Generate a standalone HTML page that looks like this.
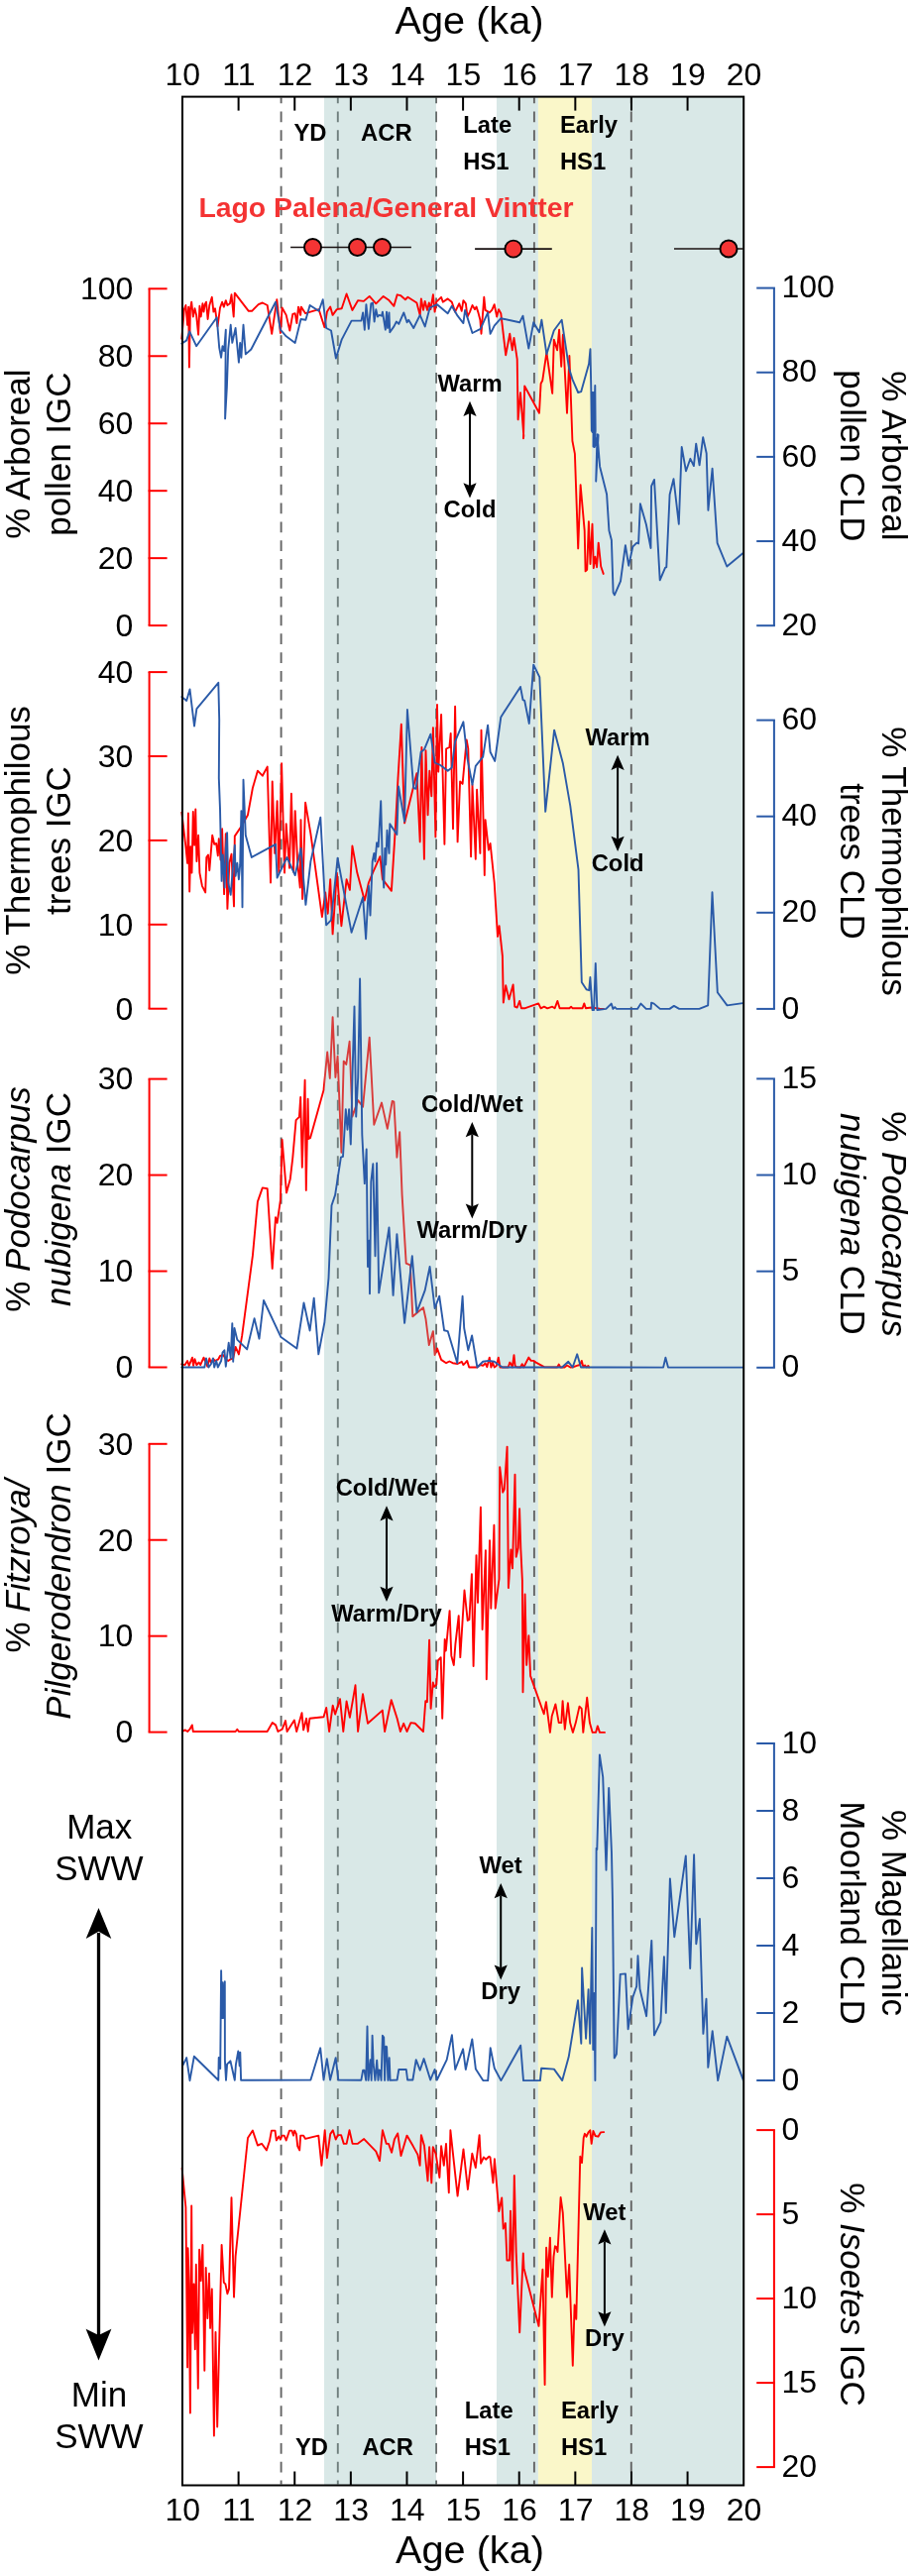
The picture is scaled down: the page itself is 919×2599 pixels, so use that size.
<!DOCTYPE html><html><head><meta charset="utf-8"><style>html,body{margin:0;padding:0;background:#fff;}svg{display:block;will-change:transform;}text{font-family:"Liberation Sans", sans-serif;}</style></head><body>
<svg width="919" height="2599" viewBox="0 0 919 2599">
<rect width="919" height="2599" fill="#fff"/>
<rect x="501.0" y="97.6" width="41.90" height="2409.90" fill="#d9e8e7"/>
<rect x="542.9" y="97.6" width="54.10" height="2409.90" fill="#faf7c9"/>
<rect x="597.0" y="97.6" width="153.20" height="2409.90" fill="#d9e8e7"/>
<line x1="283.6" y1="98.6" x2="283.6" y2="2506.5" stroke="#646464" stroke-width="1.9" stroke-dasharray="10.75 8.07" stroke-dashoffset="5.02"/>
<line x1="340.8" y1="98.6" x2="340.8" y2="2506.5" stroke="#646464" stroke-width="1.9" stroke-dasharray="10.75 8.07" stroke-dashoffset="5.02"/>
<line x1="440.0" y1="98.6" x2="440.0" y2="2506.5" stroke="#646464" stroke-width="1.9" stroke-dasharray="10.75 8.07" stroke-dashoffset="5.02"/>
<line x1="538.9" y1="98.6" x2="538.9" y2="2506.5" stroke="#646464" stroke-width="1.9" stroke-dasharray="10.75 8.07" stroke-dashoffset="5.02"/>
<line x1="636.8" y1="98.6" x2="636.8" y2="2506.5" stroke="#646464" stroke-width="1.9" stroke-dasharray="10.75 8.07" stroke-dashoffset="5.02"/>
<path d="M183.3,1376.3 L186.6,1377.1 L189.1,1373.0 L190.7,1377.9 L194.0,1369.7 L195.1,1377.9 L196.5,1371.3 L198.4,1377.1 L200.6,1374.6 L202.2,1377.1 L205.5,1369.7 L207.2,1373.8 L209.3,1378.7 L211.3,1370.5 L212.9,1374.6 L215.4,1371.3 L217.0,1373.0 L220.3,1371.3 L222.0,1368.0 L225.3,1367.2 L227.8,1371.3 L230.2,1373.0 L232.7,1371.3 L235.2,1370.5 L237.6,1359.0 L240.9,1366.4 L244.2,1347.4 L254.9,1266.8 L259.9,1212.4 L264.8,1198.4 L269.7,1199.2 L274.7,1279.9 L278.0,1228.1 L279.6,1233.8 L282.9,1210.8 L284.6,1149.8 L289.0,1203.4 L292.8,1189.4 L295.3,1168.0 L298.6,1130.1 L301.9,1126.8 L303.2,1107.0 L304.8,1177.8 L307.6,1089.7 L308.8,1200.9 L310.6,1108.7 L311.4,1149.0 L313.0,1148.2 L326.6,1099.6 L326.6,1098.6 L330.2,1061.5 L332.8,1087.9 L335.6,1026.1 L338.4,1087.0 L340.6,1065.6 L344.4,1162.8 L346.7,1070.6 L349.3,1073.9 L352.6,1050.8 L355.4,1126.6 L361.2,1110.1 L366.1,1116.7 L372.7,1046.7 L377.3,1134.8 L385.0,1112.6 L390.8,1138.9 L395.7,1110.9 L397.4,1111.7 L400.4,1167.7 L403.2,1142.2 L405.6,1205.6 L409.7,1274.7 L413.9,1276.4 L416.3,1328.3 L427.0,1319.2 L429.5,1330.7 L432.8,1357.1 L436.9,1343.1 L438.6,1367.0 L441.0,1360.4 L445.1,1371.9 L450.1,1375.2 L453.4,1373.5 L456.7,1375.2 L461.6,1376.0 L464.9,1374.4 L465.8,1373.8 L467.4,1377.0 L469.1,1375.4 L471.2,1372.9 L473.2,1379.5 L481.4,1379.5 L484.7,1377.0 L487.2,1377.9 L489.6,1375.4 L491.3,1379.2 L493.8,1369.6 L495.4,1379.5 L497.0,1374.6 L498.7,1379.5 L500.8,1377.9 L502.8,1369.6 L504.5,1379.5 L512.7,1379.5 L514.3,1374.6 L516.0,1377.0 L516.8,1379.5 L518.5,1367.2 L519.6,1377.9 L520.9,1379.2 L525.0,1379.5 L526.7,1376.2 L528.3,1379.5 L533.3,1369.6 L535.7,1372.9 L538.2,1372.9 L540.7,1374.6 L548.9,1379.2 L562.1,1379.5 L563.7,1376.6 L565.4,1379.5 L569.5,1379.5 L572.0,1377.5 L575.3,1379.5 L578.6,1379.2 L581.9,1377.9 L585.1,1377.0 L586.8,1372.9 L588.4,1379.2 L590.1,1377.5 L591.7,1379.5 L593.4,1377.9 L594.2,1379.5" fill="none" stroke="#ff0000" stroke-width="1.9" stroke-linejoin="round" stroke-linecap="round"/>
<rect x="327.0" y="97.6" width="113.0" height="2409.90" fill="rgb(136,183,180)" fill-opacity="0.32"/>
<path d="M183.3,341.7 L185.8,312.1 L187.4,308.0 L189.1,327.8 L190.2,309.6 L190.9,370.6 L191.9,312.9 L193.2,304.7 L194.8,319.5 L196.5,311.3 L198.1,317.9 L200.1,337.6 L201.4,308.8 L202.7,319.5 L204.4,306.3 L205.5,314.6 L206.7,307.2 L208.0,304.7 L209.6,322.0 L211.3,308.0 L213.8,299.8 L215.4,314.6 L217.0,311.3 L219.5,329.4 L222.0,310.5 L224.1,304.7 L225.8,309.6 L227.8,303.1 L229.4,308.0 L231.9,306.3 L233.5,297.3 L235.7,319.5 L236.8,295.6 L250.8,313.8 L254.1,313.8 L260.7,307.2 L264.8,305.5 L269.7,308.0 L274.2,336.8 L279.3,302.2 L282.9,336.0 L284.6,310.5 L288.7,317.9 L292.3,333.5 L295.3,317.0 L297.7,316.2 L299.4,326.1 L301.0,309.6 L303.2,317.9 L303.8,309.6 L308.1,316.2 L321.6,312.1 L327.4,330.2 L329.9,314.6 L333.2,309.6 L335.6,317.9 L339.8,312.1 L344.7,311.3 L349.6,296.5 L355.4,312.9 L361.2,303.1 L366.9,303.9 L372.7,298.9 L379.3,306.3 L386.7,298.9 L392.5,303.1 L397.4,308.8 L400.7,297.3 L404.0,298.1 L408.9,302.2 L411.4,299.8 L420.4,305.5 L423.7,317.9 L424.9,301.4 L427.0,312.9 L428.7,303.9 L431.1,312.9 L432.8,305.5 L434.4,312.1 L436.9,297.3 L438.6,314.6 L440.2,304.7 L445.1,299.8 L446.8,304.7 L451.7,301.4 L455.8,304.7 L459.1,314.6 L463.3,306.3 L465.7,313.8 L467.4,303.1 L469.9,306.3 L471.5,319.5 L474.0,314.6 L476.5,308.0 L478.9,312.1 L480.6,309.6 L482.2,314.6 L484.4,322.8 L485.5,336.8 L488.3,299.8 L489.6,312.9 L493.8,315.4 L496.2,312.9 L498.7,307.2 L501.2,319.5 L503.1,312.1 L505.3,316.2 L510.2,358.2 L514.3,336.8 L516.8,353.3 L518.5,340.9 L521.7,362.3 L522.6,423.3 L525.0,396.1 L528.3,439.7 L528.0,442.2 L529.2,389.5 L544.0,416.7 L545.6,387.0 L547.3,383.7 L551.4,355.7 L557.2,396.9 L558.8,342.6 L562.1,353.3 L564.1,332.7 L566.2,369.7 L567.9,337.6 L572.0,416.7 L574.4,359.0 L577.4,444.7 L579.9,457.9 L583.2,553.4 L585.6,489.2 L589.7,535.3 L590.6,576.4 L592.2,574.8 L593.9,526.2 L595.5,569.0 L597.5,528.7 L598.8,573.1 L600.4,561.6 L602.1,572.3 L603.7,547.6 L606.2,571.5 L608.7,578.9" fill="none" stroke="#ff0000" stroke-width="1.9" stroke-linejoin="round" stroke-linecap="round"/>
<path d="M183.3,346.7 L188.2,343.4 L191.2,334.3 L198.1,349.2 L218.7,320.3 L221.2,350.8 L223.1,360.7 L224.5,349.2 L226.1,354.1 L227.8,332.7 L227.1,422.4 L228.9,390.3 L230.2,352.5 L232.7,327.8 L234.3,345.9 L237.6,331.0 L240.9,365.6 L242.2,345.9 L243.4,360.7 L245.5,327.8 L247.8,357.4 L253.3,352.5 L278.0,304.7 L280.4,318.7 L282.9,332.7 L288.7,339.3 L297.7,345.9 L303.5,322.0 L308.4,322.8 L312.6,308.0 L321.6,313.8 L325.7,302.2 L329.1,331.0 L334.0,333.5 L338.9,361.5 L344.7,342.6 L354.6,323.6 L364.5,323.6 L366.1,315.4 L367.8,332.7 L369.4,307.2 L371.9,331.9 L374.3,306.3 L376.0,305.5 L377.6,324.5 L379.3,312.1 L380.9,319.5 L382.6,317.9 L385.0,318.7 L385.9,314.6 L388.8,332.7 L390.0,314.6 L391.1,331.0 L392.5,315.4 L393.3,335.2 L397.4,329.4 L399.9,324.5 L402.3,326.9 L407.3,315.4 L410.6,325.3 L412.2,322.8 L417.2,331.0 L423.7,317.9 L428.7,329.4 L433.6,310.5 L441.0,307.2 L451.7,316.2 L455.8,308.8 L461.6,318.7 L467.4,326.1 L469.1,312.9 L476.5,336.0 L484.7,331.9 L492.1,315.4 L494.6,336.8 L498.7,328.6 L505.3,321.2 L524.2,325.3 L527.5,318.7 L533.3,351.6 L538.2,325.3 L544.0,335.2 L546.4,322.8 L551.4,357.4 L558.8,333.5 L566.7,322.8 L574.0,371.5 L577.5,382.9 L583.2,396.0 L586.2,395.2 L594.1,367.1 L595.5,352.1 L596.3,393.4 L596.8,434.7 L597.7,396.0 L597.6,436.0 L598.8,396.0 L598.5,450.5 L600.3,389.0 L600.7,434.7 L599.2,451.0 L603.0,438.5 L599.8,451.0 L603.6,439.0 L601.2,485.6 L602.5,438.2 L605.1,470.7 L612.1,498.8 L614.4,535.3 L616.9,545.1 L618.6,597.8 L619.9,600.3 L626.0,586.3 L630.9,550.1 L634.2,570.7 L638.3,551.7 L642.4,547.6 L644.1,548.4 L645.9,508.3 L651.9,529.3 L656.5,553.0 L657.1,490.5 L660.0,483.9 L665.7,585.3 L671.0,572.8 L672.3,572.1 L675.6,499.0 L679.5,483.2 L684.8,528.7 L687.7,451.0 L692.0,475.3 L696.4,462.8 L699.9,470.1 L702.2,447.7 L705.6,469.4 L709.2,441.1 L712.7,457.5 L714.4,514.8 L718.6,472.7 L723.6,547.8 L733.3,571.5 L749.3,558.3" fill="none" stroke="#2a5aa8" stroke-width="1.9" stroke-linejoin="round" stroke-linecap="round"/>
<path d="M183.3,819.7 L187.4,854.3 L189.1,870.8 L189.9,820.5 L191.2,899.6 L192.3,854.3 L193.5,880.6 L194.8,818.9 L196.1,852.7 L197.3,816.4 L198.4,869.1 L200.1,842.8 L201.4,880.6 L203.9,893.8 L207.2,900.4 L208.3,865.0 L210.0,862.5 L211.3,878.2 L214.2,842.8 L216.2,851.8 L218.2,851.0 L219.8,863.4 L220.8,846.1 L222.5,867.5 L224.1,836.2 L226.1,902.1 L227.8,841.1 L229.4,916.9 L231.4,870.8 L233.5,861.7 L236.0,914.4 L236.8,843.6 L243.4,833.7 L250.0,822.2 L254.9,795.0 L259.9,777.7 L264.8,782.7 L269.7,773.6 L273.0,890.5 L274.7,788.4 L277.2,860.9 L279.6,808.2 L281.3,880.6 L284.1,770.3 L287.0,880.6 L288.7,831.2 L292.0,875.7 L293.9,800.8 L296.1,879.8 L297.7,818.1 L300.2,870.8 L302.7,895.5 L303.5,827.1 L305.1,907.0 L308.1,809.8 L313.4,841.1 L324.9,925.1 L328.2,900.4 L330.7,921.8 L333.2,887.2 L335.6,942.4 L339.8,880.6 L344.4,934.2 L349.6,887.2 L352.9,897.9 L355.4,853.5 L360.3,880.6 L367.8,908.6 L371.9,890.5 L376.0,880.6 L383.4,864.2 L385.9,887.2 L394.9,898.8 L399.0,832.9 L401.5,785.1 L404.8,730.8 L408.1,830.4 L420.4,780.2 L423.7,849.4 L425.4,753.9 L427.9,866.7 L429.5,757.2 L431.6,822.2 L433.3,777.7 L435.3,803.3 L436.9,734.1 L439.4,844.4 L441.0,711.0 L442.2,778.6 L445.1,720.9 L448.4,851.8 L450.1,755.5 L453.4,753.9 L454.7,739.9 L457.0,836.2 L459.1,712.7 L461.6,849.4 L464.1,788.4 L466.6,790.9 L470.7,746.4 L472.3,755.5 L475.1,864.2 L476.5,791.7 L479.8,866.7 L481.1,796.7 L484.4,860.9 L485.5,736.6 L488.8,883.1 L489.6,827.1 L492.9,857.6 L494.6,851.0 L498.7,890.5 L502.0,944.9 L503.6,934.2 L506.9,964.6 L507.8,1011.6 L510.2,994.3 L513.5,1008.3 L517.6,993.4 L519.3,1015.7 L521.7,1016.5 L524.2,1009.9 L525.9,1017.3 L529.2,1017.3 L543.2,1012.4 L545.6,1017.3 L548.9,1015.7 L552.2,1017.3 L557.2,1015.7 L559.6,1017.3 L562.4,1009.9 L564.6,1017.3 L574.4,1017.3 L576.1,1015.7 L577.7,1017.3 L587.6,1017.3 L589.3,1012.4 L590.9,1017.3 L596.7,1016.5 L604.9,1017.6 L608.8,1017.9" fill="none" stroke="#ff0000" stroke-width="1.9" stroke-linejoin="round" stroke-linecap="round"/>
<path d="M183.3,703.1 L188.2,706.9 L191.5,695.4 L196.0,732.5 L198.4,715.2 L220.3,688.8 L221.2,725.9 L220.8,785.1 L222.0,816.4 L223.6,888.9 L224.8,862.5 L226.6,895.5 L227.8,855.9 L229.1,840.3 L230.2,890.5 L232.7,902.9 L236.8,852.7 L237.6,883.9 L239.3,870.8 L240.9,887.2 L242.2,872.4 L243.4,818.1 L244.5,915.2 L245.5,786.8 L247.8,842.8 L253.8,865.0 L278.0,851.8 L279.6,885.6 L289.5,865.0 L297.7,883.1 L303.5,855.9 L308.4,912.8 L313.4,869.1 L323.3,824.7 L329.1,933.3 L334.0,928.4 L340.6,865.8 L354.6,940.8 L366.1,905.3 L369.1,947.3 L371.9,893.8 L373.5,923.5 L375.7,869.1 L377.3,860.9 L378.5,869.1 L380.1,850.2 L381.7,854.3 L384.2,808.2 L385.9,874.1 L387.2,895.5 L388.3,855.9 L389.2,872.4 L390.5,837.8 L392.5,860.9 L393.3,831.2 L400.4,842.0 L402.0,793.4 L408.1,828.8 L410.9,716.0 L417.2,795.0 L419.6,795.8 L424.6,758.8 L427.9,756.3 L434.4,740.7 L438.6,769.5 L444.3,772.0 L451.7,777.7 L455.8,774.4 L459.1,748.1 L467.4,728.3 L471.5,765.4 L476.5,791.7 L479.8,772.8 L487.2,763.7 L492.1,731.6 L494.6,758.8 L499.2,767.9 L505.3,723.4 L525.0,692.9 L527.5,706.1 L529.2,706.9 L533.8,730.0 L538.2,670.7 L544.3,683.1 L550.2,818.9 L559.1,736.6 L567.9,770.3 L575.3,813.1 L583.5,877.4 L586.8,991.0 L591.7,998.4 L594.2,999.2 L595.4,986.0 L597.5,1019.0 L599.1,1019.0 L600.8,972.0 L602.4,1019.0 L611.4,1017.9 L616.7,1012.6 L618.4,1017.9 L620.2,1016.1 L622.0,1017.9 L643.0,1017.9 L646.5,1012.6 L651.8,1017.9 L656.6,1017.9 L657.1,1011.7 L659.7,1012.6 L665.9,1017.9 L675.5,1017.9 L679.9,1014.9 L685.2,1017.9 L705.4,1017.9 L714.2,1014.4 L718.5,900.2 L723.8,1001.2 L733.5,1014.4 L749.3,1012.1" fill="none" stroke="#2a5aa8" stroke-width="1.9" stroke-linejoin="round" stroke-linecap="round"/>
<path d="M183.3,1379.5 L206.3,1379.5 L208.0,1370.5 L210.5,1379.5 L212.9,1376.3 L214.9,1370.5 L216.2,1379.5 L218.2,1373.0 L219.8,1379.5 L223.1,1373.0 L224.5,1364.7 L226.4,1362.3 L227.8,1378.7 L230.7,1354.8 L232.7,1370.5 L234.3,1335.1 L235.2,1373.8 L236.5,1340.0 L239.3,1351.6 L249.2,1361.4 L256.6,1330.1 L261.5,1350.7 L266.0,1312.0 L283.4,1349.1 L299.4,1360.6 L306.5,1314.5 L312.6,1342.5 L316.7,1309.6 L321.3,1366.4 L327.4,1334.0 L331.5,1289.6 L334.5,1216.3 L338.1,1205.6 L343.9,1167.7 L346.0,1166.9 L348.8,1119.1 L350.5,1139.7 L352.1,1119.1 L353.8,1154.5 L354.6,1129.0 L355.4,1088.7 L357.5,1015.4 L359.2,1126.6 L361.2,1087.0 L363.1,987.4 L365.3,1144.7 L367.8,1194.1 L369.7,1159.5 L371.0,1278.0 L372.4,1251.7 L373.0,1305.2 L374.3,1192.4 L376.3,1174.3 L378.5,1267.3 L380.1,1173.5 L382.2,1304.4 L392.5,1238.5 L396.6,1306.9 L400.4,1245.1 L408.1,1334.8 L415.8,1267.3 L420.4,1324.1 L428.7,1301.9 L433.6,1278.0 L438.6,1320.0 L443.2,1307.7 L448.1,1342.3 L451.7,1343.1 L461.3,1375.2 L466.6,1307.7 L468.2,1340.0 L472.3,1362.2 L476.1,1347.4 L481.4,1379.5 L487.2,1373.8 L492.9,1372.9 L498.7,1373.8 L502.0,1376.2 L506.9,1379.5 L567.0,1379.5 L573.3,1373.8 L577.7,1379.5 L582.2,1366.3 L586.0,1379.5 L610.0,1379.5 L669.1,1379.6 L671.4,1369.7 L674.0,1379.6 L750.0,1379.6" fill="none" stroke="#2a5aa8" stroke-width="1.9" stroke-linejoin="round" stroke-linecap="round"/>
<path d="M184.0,1747.0 L186.6,1745.4 L189.2,1747.0 L191.5,1744.7 L193.8,1740.4 L194.8,1747.0 L237.6,1747.0 L239.3,1744.7 L240.9,1747.0 L269.6,1747.0 L274.8,1738.1 L278.1,1740.4 L280.4,1747.0 L284.7,1744.7 L288.0,1736.1 L289.6,1747.0 L296.9,1735.5 L299.2,1747.0 L304.5,1728.2 L306.1,1745.4 L309.1,1733.8 L310.7,1747.0 L312.4,1733.8 L326.5,1732.2 L329.2,1723.0 L332.1,1747.0 L335.7,1720.7 L338.1,1729.6 L343.0,1714.1 L346.3,1747.0 L349.6,1716.4 L352.9,1732.9 L358.5,1700.3 L361.1,1747.0 L366.0,1709.1 L371.0,1738.8 L385.8,1725.6 L388.1,1747.0 L394.7,1715.1 L400.6,1733.8 L403.9,1747.0 L407.2,1738.8 L410.5,1747.0 L414.4,1738.1 L418.7,1738.8 L427.0,1747.0 L429.3,1716.1 L430.9,1717.2 L433.1,1654.6 L434.6,1723.8 L436.8,1697.5 L438.1,1701.8 L440.3,1699.6 L441.8,1675.5 L444.7,1672.2 L446.2,1733.7 L448.7,1653.9 L449.8,1665.5 L453.6,1625.1 L455.3,1670.4 L457.8,1680.0 L459.4,1658.9 L462.7,1630.1 L464.3,1672.1 L468.5,1604.5 L471.7,1635.0 L473.4,1634.2 L475.9,1588.1 L477.6,1681.0 L480.5,1569.1 L482.0,1616.9 L484.9,1520.6 L486.6,1644.0 L489.9,1564.2 L490.8,1694.2 L494.0,1554.3 L495.3,1622.7 L498.4,1538.7 L499.7,1622.7 L503.5,1593.0 L504.2,1480.2 L507.2,1505.7 L508.8,1502.5 L511.6,1459.6 L512.9,1602.1 L515.4,1563.4 L517.0,1582.3 L519.5,1487.6 L520.7,1570.8 L522.8,1561.7 L524.1,1522.2 L525.3,1561.7 L526.9,1594.7 L527.5,1707.3 L529.6,1608.5 L531.2,1679.9 L533.4,1650.3 L535.1,1690.9 L548.7,1729.3 L550.9,1717.2 L554.9,1747.9 L556.7,1731.5 L560.4,1719.4 L563.7,1738.1 L566.3,1738.1 L567.6,1716.1 L569.8,1744.7 L572.9,1718.3 L575.1,1738.1 L577.9,1747.9 L580.8,1738.1 L584.5,1721.6 L586.7,1723.8 L588.3,1747.9 L592.2,1712.8 L594.9,1738.1 L597.7,1747.9 L601.0,1747.9 L602.8,1741.4 L605.0,1747.9 L610.0,1747.9" fill="none" stroke="#ff0000" stroke-width="1.9" stroke-linejoin="round" stroke-linecap="round"/>
<path d="M184.0,2084.7 L188.2,2076.1 L191.5,2099.2 L195.8,2074.8 L220.3,2098.8 L220.7,2076.0 L222.2,2087.0 L223.1,1988.2 L223.9,2036.0 L224.7,2000.3 L225.2,2036.0 L226.8,1999.2 L226.9,2078.8 L228.0,2098.8 L229.1,2082.6 L232.4,2079.3 L236.8,2098.8 L237.9,2083.2 L240.3,2069.5 L241.7,2084.3 L242.3,2070.6 L243.1,2098.8 L313.4,2098.5 L323.2,2066.3 L326.5,2098.5 L329.8,2077.1 L333.1,2098.5 L338.7,2076.1 L341.3,2098.5 L364.4,2098.7 L366.1,2088.8 L367.5,2088.8 L369.2,2098.9 L370.5,2044.5 L371.6,2098.9 L373.6,2078.3 L374.7,2098.9 L375.6,2053.7 L376.7,2082.7 L378.4,2098.9 L380.2,2078.7 L381.5,2098.9 L382.4,2088.4 L383.3,2088.8 L384.6,2098.9 L385.9,2053.7 L387.2,2055.5 L388.1,2098.9 L389.2,2064.7 L390.1,2065.1 L391.4,2098.9 L392.7,2076.1 L393.6,2098.9 L400.6,2098.5 L402.3,2088.0 L409.8,2088.0 L411.1,2098.5 L416.4,2098.5 L419.7,2078.1 L423.7,2088.7 L427.6,2077.1 L434.2,2098.5 L438.5,2088.0 L440.8,2098.5 L450.7,2078.1 L455.9,2053.1 L459.2,2088.0 L467.1,2067.3 L469.8,2088.0 L476.3,2057.4 L479.9,2087.6 L487.3,2099.1 L492.2,2099.1 L494.7,2066.2 L498.8,2086.8 L505.4,2099.1 L525.2,2063.7 L528.0,2099.1 L544.9,2099.1 L546.1,2086.8 L558.9,2087.6 L567.2,2099.1 L573.7,2075.3 L583.0,2018.3 L586.3,2061.8 L587.1,1985.4 L591.1,2056.8 L593.6,2007.1 L595.2,2061.8 L597.3,1945.0 L598.3,2068.0 L599.5,2010.9 L600.4,2099.1 L601.6,1864.8 L602.3,1866.0 L604.9,1770.4 L608.2,1792.9 L611.5,1886.8 L614.2,1803.9 L617.0,1869.8 L618.0,1920.0 L619.7,2076.4 L621.9,2072.6 L625.7,1991.9 L631.0,1991.4 L633.6,2047.3 L638.4,2015.0 L642.2,2004.0 L643.5,1973.2 L645.5,2006.7 L652.1,2034.2 L657.3,1957.9 L660.0,2053.4 L666.4,2040.2 L669.9,1974.3 L671.8,2030.9 L675.9,1895.4 L680.3,1954.2 L691.8,1872.4 L696.2,1986.0 L700.1,1871.3 L702.3,1961.3 L705.9,1936.0 L709.4,2051.9 L712.5,2016.7 L714.3,2085.9 L718.7,2049.1 L724.2,2099.1 L733.3,2054.6 L750.0,2099.1" fill="none" stroke="#2a5aa8" stroke-width="1.9" stroke-linejoin="round" stroke-linecap="round"/>
<path d="M183.6,2187.5 L187.4,2227.0 L189.1,2388.4 L189.6,2268.2 L190.7,2304.4 L191.9,2434.5 L193.2,2225.4 L194.0,2353.8 L195.6,2304.4 L196.8,2370.3 L197.8,2284.7 L199.8,2409.8 L201.1,2269.8 L202.7,2301.1 L204.4,2264.9 L206.3,2391.7 L207.7,2288.0 L209.3,2339.0 L211.0,2293.7 L212.1,2348.9 L213.8,2309.4 L215.9,2457.6 L217.5,2353.0 L219.2,2448.5 L220.3,2399.9 L223.6,2264.9 L225.8,2302.8 L227.4,2304.4 L229.4,2314.3 L231.0,2309.4 L233.5,2217.2 L236.0,2317.6 L237.6,2276.4 L250.0,2157.0 L254.9,2149.6 L259.9,2164.5 L264.0,2162.8 L268.9,2169.4 L271.9,2160.3 L273.9,2149.6 L277.5,2149.6 L278.8,2159.5 L281.3,2155.4 L282.9,2158.7 L284.6,2154.6 L286.7,2154.6 L288.7,2159.5 L292.0,2149.6 L294.4,2149.6 L296.1,2154.6 L297.2,2149.6 L298.9,2152.9 L300.2,2165.3 L302.2,2169.4 L303.2,2154.6 L306.0,2154.6 L308.1,2157.9 L321.3,2154.6 L324.4,2184.9 L327.7,2149.3 L329.9,2177.2 L333.2,2153.1 L335.8,2149.3 L338.7,2158.5 L340.9,2154.1 L344.1,2154.1 L346.8,2162.9 L349.6,2162.9 L352.5,2149.3 L355.6,2162.9 L360.6,2162.9 L367.2,2158.1 L379.3,2170.6 L383.0,2180.1 L385.9,2149.3 L389.8,2162.9 L392.0,2162.9 L395.1,2171.7 L397.9,2158.5 L401.2,2152.4 L404.5,2175.0 L410.5,2154.6 L416.6,2165.1 L421.4,2173.9 L423.6,2184.9 L424.9,2154.1 L428.0,2165.1 L431.5,2200.3 L433.1,2166.2 L435.3,2202.4 L436.8,2166.2 L439.6,2172.8 L443.4,2197.0 L445.1,2165.1 L447.8,2184.9 L450.0,2162.9 L452.8,2212.3 L454.4,2149.3 L457.9,2181.6 L461.6,2215.6 L467.5,2168.4 L471.9,2209.0 L476.3,2172.8 L479.8,2187.1 L483.6,2154.1 L485.1,2182.7 L487.9,2176.5 L490.1,2178.7 L493.4,2175.7 L494.5,2176.5 L497.4,2202.4 L498.9,2178.3 L503.3,2231.0 L506.2,2217.4 L507.7,2248.6 L509.9,2243.1 L511.4,2280.5 L514.0,2280.5 L515.0,2230.6 L517.1,2304.1 L518.8,2194.9 L520.7,2272.7 L524.2,2353.3 L527.8,2273.4 L528.5,2288.4 L543.5,2346.9 L547.4,2289.8 L549.6,2406.1 L551.1,2267.7 L552.8,2297.0 L554.9,2257.7 L556.8,2317.6 L558.5,2277.0 L559.9,2266.3 L561.3,2267.0 L562.5,2272.0 L565.6,2217.0 L567.8,2232.7 L572.0,2317.6 L574.2,2284.8 L577.8,2386.8 L579.6,2325.5 L581.3,2339.8 L585.3,2175.7 L587.0,2182.1 L588.7,2157.1 L589.9,2152.8 L591.6,2155.7 L593.5,2151.4 L595.3,2149.3 L596.7,2162.8 L598.4,2150.0 L600.6,2155.0 L603.4,2155.7 L605.9,2151.4 L609.2,2151.1" fill="none" stroke="#ff0000" stroke-width="1.9" stroke-linejoin="round" stroke-linecap="round"/>
<rect x="184.0" y="97.6" width="566.20" height="2409.90" fill="none" stroke="#000" stroke-width="2"/>
<line x1="240.62" y1="97.6" x2="240.62" y2="111.6" stroke="#000" stroke-width="2"/>
<line x1="240.62" y1="2507.5" x2="240.62" y2="2493.5" stroke="#000" stroke-width="2"/>
<line x1="297.24" y1="97.6" x2="297.24" y2="111.6" stroke="#000" stroke-width="2"/>
<line x1="297.24" y1="2507.5" x2="297.24" y2="2493.5" stroke="#000" stroke-width="2"/>
<line x1="353.86" y1="97.6" x2="353.86" y2="111.6" stroke="#000" stroke-width="2"/>
<line x1="353.86" y1="2507.5" x2="353.86" y2="2493.5" stroke="#000" stroke-width="2"/>
<line x1="410.48" y1="97.6" x2="410.48" y2="111.6" stroke="#000" stroke-width="2"/>
<line x1="410.48" y1="2507.5" x2="410.48" y2="2493.5" stroke="#000" stroke-width="2"/>
<line x1="467.10" y1="97.6" x2="467.10" y2="111.6" stroke="#000" stroke-width="2"/>
<line x1="467.10" y1="2507.5" x2="467.10" y2="2493.5" stroke="#000" stroke-width="2"/>
<line x1="523.72" y1="97.6" x2="523.72" y2="111.6" stroke="#000" stroke-width="2"/>
<line x1="523.72" y1="2507.5" x2="523.72" y2="2493.5" stroke="#000" stroke-width="2"/>
<line x1="580.34" y1="97.6" x2="580.34" y2="111.6" stroke="#000" stroke-width="2"/>
<line x1="580.34" y1="2507.5" x2="580.34" y2="2493.5" stroke="#000" stroke-width="2"/>
<line x1="636.96" y1="97.6" x2="636.96" y2="111.6" stroke="#000" stroke-width="2"/>
<line x1="636.96" y1="2507.5" x2="636.96" y2="2493.5" stroke="#000" stroke-width="2"/>
<line x1="693.58" y1="97.6" x2="693.58" y2="111.6" stroke="#000" stroke-width="2"/>
<line x1="693.58" y1="2507.5" x2="693.58" y2="2493.5" stroke="#000" stroke-width="2"/>
<text x="184.30" y="86.0" font-size="32" text-anchor="middle">10</text>
<text x="184.30" y="2542.9" font-size="32" text-anchor="middle">10</text>
<text x="240.92" y="86.0" font-size="32" text-anchor="middle">11</text>
<text x="240.92" y="2542.9" font-size="32" text-anchor="middle">11</text>
<text x="297.54" y="86.0" font-size="32" text-anchor="middle">12</text>
<text x="297.54" y="2542.9" font-size="32" text-anchor="middle">12</text>
<text x="354.16" y="86.0" font-size="32" text-anchor="middle">13</text>
<text x="354.16" y="2542.9" font-size="32" text-anchor="middle">13</text>
<text x="410.78" y="86.0" font-size="32" text-anchor="middle">14</text>
<text x="410.78" y="2542.9" font-size="32" text-anchor="middle">14</text>
<text x="467.40" y="86.0" font-size="32" text-anchor="middle">15</text>
<text x="467.40" y="2542.9" font-size="32" text-anchor="middle">15</text>
<text x="524.02" y="86.0" font-size="32" text-anchor="middle">16</text>
<text x="524.02" y="2542.9" font-size="32" text-anchor="middle">16</text>
<text x="580.64" y="86.0" font-size="32" text-anchor="middle">17</text>
<text x="580.64" y="2542.9" font-size="32" text-anchor="middle">17</text>
<text x="637.26" y="86.0" font-size="32" text-anchor="middle">18</text>
<text x="637.26" y="2542.9" font-size="32" text-anchor="middle">18</text>
<text x="693.88" y="86.0" font-size="32" text-anchor="middle">19</text>
<text x="693.88" y="2542.9" font-size="32" text-anchor="middle">19</text>
<text x="750.50" y="86.0" font-size="32" text-anchor="middle">20</text>
<text x="750.50" y="2542.9" font-size="32" text-anchor="middle">20</text>
<text x="398.5" y="33.8" font-size="39.7">Age (ka)</text>
<text x="399.0" y="2585.7" font-size="39.7">Age (ka)</text>
<text x="296.4" y="141.8" font-weight="bold" font-size="23.8">YD</text>
<text x="364.1" y="141.8" font-weight="bold" font-size="23.8">ACR</text>
<text x="467.3" y="133.6" font-weight="bold" font-size="23.8">Late</text>
<text x="467.3" y="170.7" font-weight="bold" font-size="23.8">HS1</text>
<text x="564.9" y="133.6" font-weight="bold" font-size="23.8">Early</text>
<text x="564.9" y="170.7" font-weight="bold" font-size="23.8">HS1</text>
<text x="298.0" y="2476.9" font-weight="bold" font-size="23.8">YD</text>
<text x="365.4" y="2476.9" font-weight="bold" font-size="23.8">ACR</text>
<text x="468.7" y="2440.3" font-weight="bold" font-size="23.8">Late</text>
<text x="468.7" y="2476.9" font-weight="bold" font-size="23.8">HS1</text>
<text x="565.9" y="2440.3" font-weight="bold" font-size="23.8">Early</text>
<text x="565.9" y="2476.9" font-weight="bold" font-size="23.8">HS1</text>
<text x="200.4" y="219" font-weight="bold" font-size="28.4" fill="#f43333">Lago Palena/General Vintter</text>
<line x1="293.1" y1="249.5" x2="414.9" y2="249.5" stroke="#1a1212" stroke-width="1.7"/>
<circle cx="315.5" cy="249.5" r="8.5" fill="#f43434" stroke="#000" stroke-width="1.9"/>
<circle cx="360.5" cy="249.5" r="8.5" fill="#f43434" stroke="#000" stroke-width="1.9"/>
<circle cx="385.5" cy="249.5" r="8.5" fill="#f43434" stroke="#000" stroke-width="1.9"/>
<line x1="479.1" y1="251.1" x2="556.8" y2="251.1" stroke="#1a1212" stroke-width="1.7"/>
<circle cx="517.9" cy="251.1" r="8.5" fill="#f43434" stroke="#000" stroke-width="1.9"/>
<line x1="680.0" y1="251.0" x2="750.0" y2="251.0" stroke="#1a1212" stroke-width="1.7"/>
<circle cx="735.0" cy="251.0" r="8.5" fill="#f43434" stroke="#000" stroke-width="1.9"/>
<line x1="150.6" y1="291.3" x2="150.6" y2="631.1" stroke="#ff0000" stroke-width="2"/>
<line x1="149.6" y1="631.10" x2="168.6" y2="631.10" stroke="#ff0000" stroke-width="2"/>
<text x="134.4" y="641.90" font-size="32" text-anchor="end">0</text>
<line x1="149.6" y1="563.14" x2="168.6" y2="563.14" stroke="#ff0000" stroke-width="2"/>
<text x="134.4" y="573.94" font-size="32" text-anchor="end">20</text>
<line x1="149.6" y1="495.18" x2="168.6" y2="495.18" stroke="#ff0000" stroke-width="2"/>
<text x="134.4" y="505.98" font-size="32" text-anchor="end">40</text>
<line x1="149.6" y1="427.22" x2="168.6" y2="427.22" stroke="#ff0000" stroke-width="2"/>
<text x="134.4" y="438.02" font-size="32" text-anchor="end">60</text>
<line x1="149.6" y1="359.26" x2="168.6" y2="359.26" stroke="#ff0000" stroke-width="2"/>
<text x="134.4" y="370.06" font-size="32" text-anchor="end">80</text>
<line x1="149.6" y1="291.30" x2="168.6" y2="291.30" stroke="#ff0000" stroke-width="2"/>
<text x="134.4" y="302.10" font-size="32" text-anchor="end">100</text>
<line x1="780.9" y1="290.6" x2="780.9" y2="631.2" stroke="#2a5aa8" stroke-width="2"/>
<line x1="763.2" y1="631.20" x2="781.9" y2="631.20" stroke="#2a5aa8" stroke-width="2"/>
<text x="788.4" y="640.80" font-size="32">20</text>
<line x1="763.2" y1="546.05" x2="781.9" y2="546.05" stroke="#2a5aa8" stroke-width="2"/>
<text x="788.4" y="555.65" font-size="32">40</text>
<line x1="763.2" y1="460.90" x2="781.9" y2="460.90" stroke="#2a5aa8" stroke-width="2"/>
<text x="788.4" y="470.50" font-size="32">60</text>
<line x1="763.2" y1="375.75" x2="781.9" y2="375.75" stroke="#2a5aa8" stroke-width="2"/>
<text x="788.4" y="385.35" font-size="32">80</text>
<line x1="763.2" y1="290.60" x2="781.9" y2="290.60" stroke="#2a5aa8" stroke-width="2"/>
<text x="788.4" y="300.20" font-size="32">100</text>
<line x1="150.6" y1="678.1" x2="150.6" y2="1017.7" stroke="#ff0000" stroke-width="2"/>
<line x1="149.6" y1="1017.70" x2="168.6" y2="1017.70" stroke="#ff0000" stroke-width="2"/>
<text x="134.4" y="1028.50" font-size="32" text-anchor="end">0</text>
<line x1="149.6" y1="932.80" x2="168.6" y2="932.80" stroke="#ff0000" stroke-width="2"/>
<text x="134.4" y="943.60" font-size="32" text-anchor="end">10</text>
<line x1="149.6" y1="847.90" x2="168.6" y2="847.90" stroke="#ff0000" stroke-width="2"/>
<text x="134.4" y="858.70" font-size="32" text-anchor="end">20</text>
<line x1="149.6" y1="763.00" x2="168.6" y2="763.00" stroke="#ff0000" stroke-width="2"/>
<text x="134.4" y="773.80" font-size="32" text-anchor="end">30</text>
<line x1="149.6" y1="678.10" x2="168.6" y2="678.10" stroke="#ff0000" stroke-width="2"/>
<text x="134.4" y="688.90" font-size="32" text-anchor="end">40</text>
<line x1="780.9" y1="726.6" x2="780.9" y2="1017.9" stroke="#2a5aa8" stroke-width="2"/>
<line x1="763.2" y1="1017.90" x2="781.9" y2="1017.90" stroke="#2a5aa8" stroke-width="2"/>
<text x="788.4" y="1027.50" font-size="32">0</text>
<line x1="763.2" y1="920.80" x2="781.9" y2="920.80" stroke="#2a5aa8" stroke-width="2"/>
<text x="788.4" y="930.40" font-size="32">20</text>
<line x1="763.2" y1="823.70" x2="781.9" y2="823.70" stroke="#2a5aa8" stroke-width="2"/>
<text x="788.4" y="833.30" font-size="32">40</text>
<line x1="763.2" y1="726.60" x2="781.9" y2="726.60" stroke="#2a5aa8" stroke-width="2"/>
<text x="788.4" y="736.20" font-size="32">60</text>
<line x1="150.6" y1="1088.6" x2="150.6" y2="1379.5" stroke="#ff0000" stroke-width="2"/>
<line x1="149.6" y1="1379.50" x2="168.6" y2="1379.50" stroke="#ff0000" stroke-width="2"/>
<text x="134.4" y="1390.30" font-size="32" text-anchor="end">0</text>
<line x1="149.6" y1="1282.53" x2="168.6" y2="1282.53" stroke="#ff0000" stroke-width="2"/>
<text x="134.4" y="1293.33" font-size="32" text-anchor="end">10</text>
<line x1="149.6" y1="1185.57" x2="168.6" y2="1185.57" stroke="#ff0000" stroke-width="2"/>
<text x="134.4" y="1196.37" font-size="32" text-anchor="end">20</text>
<line x1="149.6" y1="1088.60" x2="168.6" y2="1088.60" stroke="#ff0000" stroke-width="2"/>
<text x="134.4" y="1099.40" font-size="32" text-anchor="end">30</text>
<line x1="780.9" y1="1088.4" x2="780.9" y2="1379.8" stroke="#2a5aa8" stroke-width="2"/>
<line x1="763.2" y1="1379.80" x2="781.9" y2="1379.80" stroke="#2a5aa8" stroke-width="2"/>
<text x="788.4" y="1389.40" font-size="32">0</text>
<line x1="763.2" y1="1282.67" x2="781.9" y2="1282.67" stroke="#2a5aa8" stroke-width="2"/>
<text x="788.4" y="1292.27" font-size="32">5</text>
<line x1="763.2" y1="1185.53" x2="781.9" y2="1185.53" stroke="#2a5aa8" stroke-width="2"/>
<text x="788.4" y="1195.13" font-size="32">10</text>
<line x1="763.2" y1="1088.40" x2="781.9" y2="1088.40" stroke="#2a5aa8" stroke-width="2"/>
<text x="788.4" y="1098.00" font-size="32">15</text>
<line x1="150.6" y1="1456.8" x2="150.6" y2="1747.6" stroke="#ff0000" stroke-width="2"/>
<line x1="149.6" y1="1747.60" x2="168.6" y2="1747.60" stroke="#ff0000" stroke-width="2"/>
<text x="134.4" y="1758.40" font-size="32" text-anchor="end">0</text>
<line x1="149.6" y1="1650.67" x2="168.6" y2="1650.67" stroke="#ff0000" stroke-width="2"/>
<text x="134.4" y="1661.47" font-size="32" text-anchor="end">10</text>
<line x1="149.6" y1="1553.73" x2="168.6" y2="1553.73" stroke="#ff0000" stroke-width="2"/>
<text x="134.4" y="1564.53" font-size="32" text-anchor="end">20</text>
<line x1="149.6" y1="1456.80" x2="168.6" y2="1456.80" stroke="#ff0000" stroke-width="2"/>
<text x="134.4" y="1467.60" font-size="32" text-anchor="end">30</text>
<line x1="780.9" y1="1759.0" x2="780.9" y2="2099.0" stroke="#2a5aa8" stroke-width="2"/>
<line x1="763.2" y1="2099.00" x2="781.9" y2="2099.00" stroke="#2a5aa8" stroke-width="2"/>
<text x="788.4" y="2108.60" font-size="32">0</text>
<line x1="763.2" y1="2031.00" x2="781.9" y2="2031.00" stroke="#2a5aa8" stroke-width="2"/>
<text x="788.4" y="2040.60" font-size="32">2</text>
<line x1="763.2" y1="1963.00" x2="781.9" y2="1963.00" stroke="#2a5aa8" stroke-width="2"/>
<text x="788.4" y="1972.60" font-size="32">4</text>
<line x1="763.2" y1="1895.00" x2="781.9" y2="1895.00" stroke="#2a5aa8" stroke-width="2"/>
<text x="788.4" y="1904.60" font-size="32">6</text>
<line x1="763.2" y1="1827.00" x2="781.9" y2="1827.00" stroke="#2a5aa8" stroke-width="2"/>
<text x="788.4" y="1836.60" font-size="32">8</text>
<line x1="763.2" y1="1759.00" x2="781.9" y2="1759.00" stroke="#2a5aa8" stroke-width="2"/>
<text x="788.4" y="1768.60" font-size="32">10</text>
<line x1="780.9" y1="2149.1" x2="780.9" y2="2489.1" stroke="#ff0000" stroke-width="2"/>
<line x1="763.2" y1="2149.10" x2="781.9" y2="2149.10" stroke="#ff0000" stroke-width="2"/>
<text x="788.4" y="2158.70" font-size="32">0</text>
<line x1="763.2" y1="2234.10" x2="781.9" y2="2234.10" stroke="#ff0000" stroke-width="2"/>
<text x="788.4" y="2243.70" font-size="32">5</text>
<line x1="763.2" y1="2319.10" x2="781.9" y2="2319.10" stroke="#ff0000" stroke-width="2"/>
<text x="788.4" y="2328.70" font-size="32">10</text>
<line x1="763.2" y1="2404.10" x2="781.9" y2="2404.10" stroke="#ff0000" stroke-width="2"/>
<text x="788.4" y="2413.70" font-size="32">15</text>
<line x1="763.2" y1="2489.10" x2="781.9" y2="2489.10" stroke="#ff0000" stroke-width="2"/>
<text x="788.4" y="2498.70" font-size="32">20</text>
<text transform="translate(29.8,458.1) rotate(-90)" font-size="35" text-anchor="middle">% Arboreal</text>
<text transform="translate(71.0,458.1) rotate(-90)" font-size="35" text-anchor="middle">pollen IGC</text>
<text transform="translate(29.8,848) rotate(-90)" font-size="35" text-anchor="middle">% Thermophilous</text>
<text transform="translate(71.0,848) rotate(-90)" font-size="35" text-anchor="middle">trees IGC</text>
<text transform="translate(29.8,1210) rotate(-90)" font-size="35" text-anchor="middle">% <tspan font-style="italic">Podocarpus</tspan></text>
<text transform="translate(71.0,1210) rotate(-90)" font-size="35" text-anchor="middle"><tspan font-style="italic">nubigena</tspan> IGC</text>
<text transform="translate(29.8,1580) rotate(-90)" font-size="35" text-anchor="middle">% <tspan font-style="italic">Fitzroya/</tspan></text>
<text transform="translate(71.0,1580) rotate(-90)" font-size="35" text-anchor="middle"><tspan font-style="italic">Pilgerodendron</tspan> IGC</text>
<text transform="translate(889.8,459.9) rotate(90)" font-size="35" text-anchor="middle">% Arboreal</text>
<text transform="translate(848.1,459.9) rotate(90)" font-size="35" text-anchor="middle">pollen CLD</text>
<text transform="translate(889.8,869) rotate(90)" font-size="35" text-anchor="middle">% Thermophilous</text>
<text transform="translate(848.1,869) rotate(90)" font-size="35" text-anchor="middle">trees CLD</text>
<text transform="translate(889.8,1235) rotate(90)" font-size="35" text-anchor="middle">% <tspan font-style="italic">Podocarpus</tspan></text>
<text transform="translate(848.1,1235) rotate(90)" font-size="35" text-anchor="middle"><tspan font-style="italic">nubigena</tspan> CLD</text>
<text transform="translate(889.8,1930) rotate(90)" font-size="35" text-anchor="middle">% Magellanic</text>
<text transform="translate(848.1,1930) rotate(90)" font-size="35" text-anchor="middle">Moorland CLD</text>
<text transform="translate(848.1,2315) rotate(90)" font-size="35" text-anchor="middle">% <tspan font-style="italic">Isoetes</tspan> IGC</text>
<text x="474.0" y="395.0" font-weight="bold" font-size="23.8" text-anchor="middle">Warm</text>
<text x="474.0" y="521.8" font-weight="bold" font-size="23.8" text-anchor="middle">Cold</text>
<line x1="474.0" y1="417.09999999999997" x2="474.0" y2="490.1" stroke="#000" stroke-width="2"/>
<path d="M474.0,404.7 L480.6,419.9 L474.0,417.09999999999997 L467.4,419.9 Z" fill="#000"/>
<path d="M474.0,502.5 L480.6,487.3 L474.0,490.1 L467.4,487.3 Z" fill="#000"/>
<text x="623.1" y="752.0" font-weight="bold" font-size="23.8" text-anchor="middle">Warm</text>
<text x="623.1" y="878.8" font-weight="bold" font-size="23.8" text-anchor="middle">Cold</text>
<line x1="623.1" y1="774.1000000000001" x2="623.1" y2="846.4999999999999" stroke="#000" stroke-width="2"/>
<path d="M623.1,761.7 L629.7,776.9000000000001 L623.1,774.1000000000001 L616.5,776.9000000000001 Z" fill="#000"/>
<path d="M623.1,858.9 L629.7,843.6999999999999 L623.1,846.4999999999999 L616.5,843.6999999999999 Z" fill="#000"/>
<text x="476.3" y="1121.7" font-weight="bold" font-size="23.8" text-anchor="middle">Cold/Wet</text>
<text x="476.3" y="1248.7" font-weight="bold" font-size="23.8" text-anchor="middle">Warm/Dry</text>
<line x1="476.3" y1="1144.5" x2="476.3" y2="1217.1999999999998" stroke="#000" stroke-width="2"/>
<path d="M476.3,1132.1 L482.90000000000003,1147.3 L476.3,1144.5 L469.7,1147.3 Z" fill="#000"/>
<path d="M476.3,1229.6 L482.90000000000003,1214.3999999999999 L476.3,1217.1999999999998 L469.7,1214.3999999999999 Z" fill="#000"/>
<text x="390.0" y="1508.7" font-weight="bold" font-size="23.8" text-anchor="middle">Cold/Wet</text>
<text x="390.0" y="1636.0" font-weight="bold" font-size="23.8" text-anchor="middle">Warm/Dry</text>
<line x1="390.0" y1="1531.6000000000001" x2="390.0" y2="1603.6" stroke="#000" stroke-width="2"/>
<path d="M390.0,1519.2 L396.6,1534.4 L390.0,1531.6000000000001 L383.4,1534.4 Z" fill="#000"/>
<path d="M390.0,1616.0 L396.6,1600.8 L390.0,1603.6 L383.4,1600.8 Z" fill="#000"/>
<text x="505.2" y="1890.0" font-weight="bold" font-size="23.8" text-anchor="middle">Wet</text>
<text x="505.2" y="2016.5" font-weight="bold" font-size="23.8" text-anchor="middle">Dry</text>
<line x1="505.2" y1="1912.4" x2="505.2" y2="1985.1999999999998" stroke="#000" stroke-width="2"/>
<path d="M505.2,1900.0 L511.8,1915.2 L505.2,1912.4 L498.59999999999997,1915.2 Z" fill="#000"/>
<path d="M505.2,1997.6 L511.8,1982.3999999999999 L505.2,1985.1999999999998 L498.59999999999997,1982.3999999999999 Z" fill="#000"/>
<text x="609.9" y="2239.9" font-weight="bold" font-size="23.8" text-anchor="middle">Wet</text>
<text x="609.9" y="2366.7" font-weight="bold" font-size="23.8" text-anchor="middle">Dry</text>
<line x1="609.9" y1="2261.5999999999995" x2="609.9" y2="2335.1000000000004" stroke="#000" stroke-width="2"/>
<path d="M609.9,2249.2 L616.5,2264.3999999999996 L609.9,2261.5999999999995 L603.3,2264.3999999999996 Z" fill="#000"/>
<path d="M609.9,2347.5 L616.5,2332.3 L609.9,2335.1000000000004 L603.3,2332.3 Z" fill="#000"/>
<text x="100.2" y="1854.9" font-size="35" text-anchor="middle">Max</text>
<text x="99.9" y="1897.4" font-size="35" text-anchor="middle">SWW</text>
<text x="100.0" y="2427.9" font-size="35" text-anchor="middle">Min</text>
<text x="99.9" y="2470.2" font-size="35" text-anchor="middle">SWW</text>
<line x1="99.5" y1="1950" x2="99.5" y2="2356" stroke="#000" stroke-width="3.3"/>
<path d="M99.5,1924.9 L112.3,1955.9 L99.5,1948.8 L86.7,1955.9 Z" fill="#000"/>
<path d="M99.5,2381.4 L112.4,2349.7 L99.5,2356.1 L86.6,2349.7 Z" fill="#000"/>
</svg></body></html>
